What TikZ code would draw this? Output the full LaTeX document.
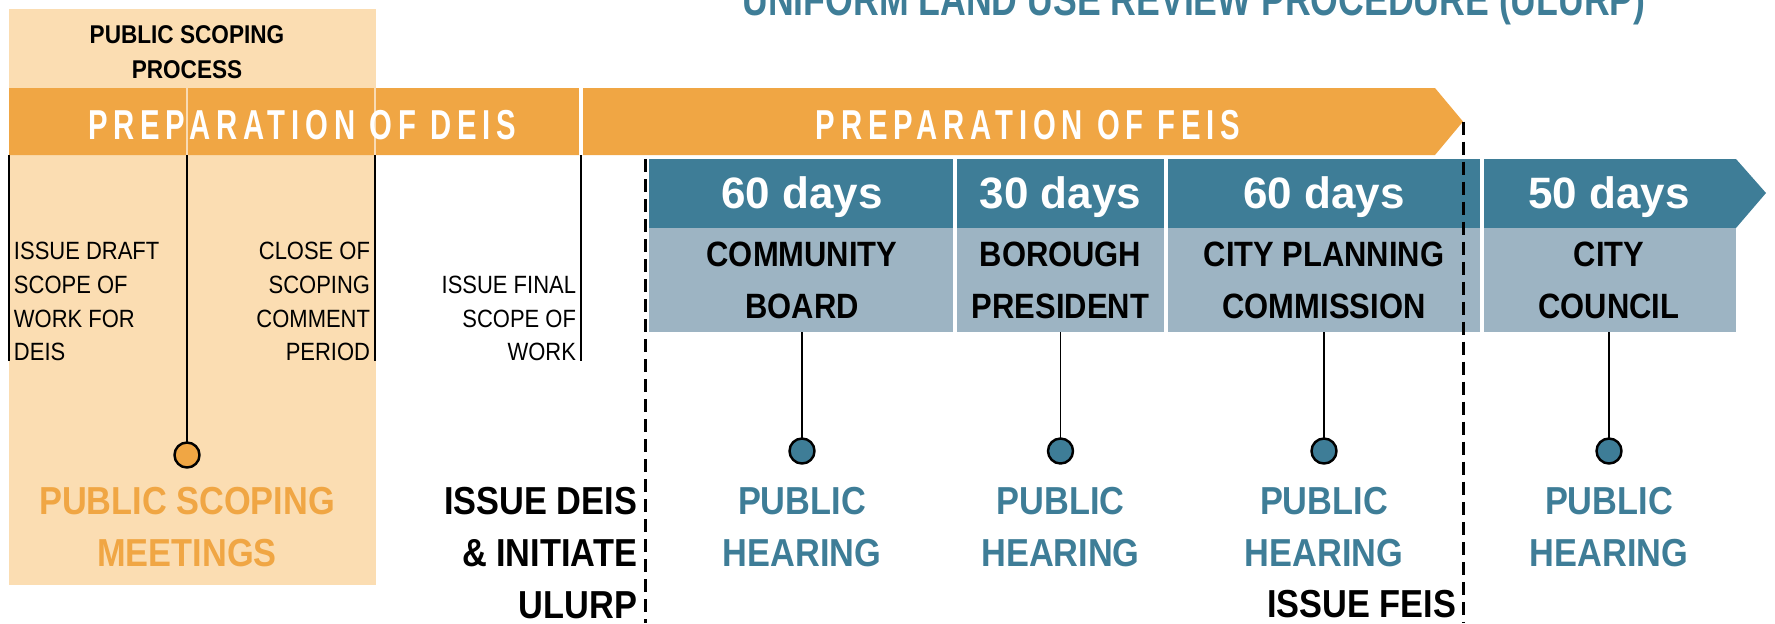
\documentclass[tikz,border=0pt]{standalone}
\usepackage{fontspec}
\setmainfont{Liberation Sans}
\newfontfamily\narrowfont{Liberation Sans}[FakeStretch=0.88]
\newfontfamily\titlefont{Liberation Sans}[FakeStretch=0.78]
\newfontfamily\bandfont{Liberation Sans}[FakeStretch=0.7,LetterSpace=14]
\definecolor{bandorange}{HTML}{F0A644}
\definecolor{scopepeach}{HTML}{FBDDB2}
\definecolor{ulurpteal}{HTML}{3E7D97}
\definecolor{agencygrey}{HTML}{9DB4C3}

\begin{document}
\begin{tikzpicture}[
    x=0.01cm, y=-0.01cm,
    line join=round,
    every node/.style={inner sep=0pt, outer sep=0pt},
    phaselabel/.style={font=\bandfont\bfseries\fontsize{11.9}{14}\selectfont, text=white},
    milestone/.style={font=\narrowfont\fontsize{7.1}{9.6}\selectfont, text=black},
    days/.style={font=\bfseries\fontsize{12.5}{15}\selectfont, text=white},
    agency/.style={font=\narrowfont\bfseries\fontsize{10}{14.8}\selectfont, align=center,
      fill=agencygrey, minimum height=1.04cm},
    hearing/.style={font=\narrowfont\bfseries\fontsize{11.1}{14.8}\selectfont, align=center,
      text=ulurpteal},
    hearingdot/.style={circle, draw=black, line width=0.7pt, minimum size=0.25cm},
    milestoneline/.style={draw=black, line width=0.5pt},
    deadline/.style={draw=black, line width=0.85pt, dash pattern=on 0.13cm off 0.07cm},
    divider/.style={draw=white, line width=0.6pt}
]
\useasboundingbox (0,0) rectangle (1775,623);
\clip (0,0) rectangle (1775,623);
\coordinate (bottom) at (0,623);

\node[anchor=base, font=\titlefont\bfseries\fontsize{13}{15}\selectfont, text=ulurpteal] (title)
  at (1194,15) {UNIFORM LAND USE REVIEW PROCEDURE (ULURP)};

\fill[scopepeach] (9,9) rectangle (376,585);
\node[align=center, font=\narrowfont\bfseries\fontsize{7.3}{10}\selectfont] (scoping)
  at (187,52) {PUBLIC SCOPING\\PROCESS};

\fill[bandorange] (9,88) -- (1435,88) -- (1463,121.5) -- (1435,155) -- (9,155) -- cycle;
\coordinate (feistip) at (1463,121.5);
\node[phaselabel] (deis) at (302,125) {PREPARATION OF DEIS};
\node[phaselabel] (feis) at (1028,125) {PREPARATION OF FEIS};
\draw[divider, line width=0.9pt] (581,88) -- (581,155);
\foreach \x in {187,375}
  \draw[divider, opacity=0.6] (\x,88) -- (\x,155);

\coordinate (m1) at (9,155);
\coordinate (m2) at (187,155);
\coordinate (m3) at (375,155);
\coordinate (m4) at (581,155);
\node[milestone, align=left, anchor=south west] (draft) at (14,361) {ISSUE DRAFT\\SCOPE OF\\WORK FOR\\DEIS};
\node[milestone, align=right, anchor=south east] (close) at (370,361) {CLOSE OF\\SCOPING\\COMMENT\\PERIOD};
\node[milestone, align=right, anchor=south east] (final) at (576,361) {ISSUE FINAL\\SCOPE OF\\WORK};
\draw[milestoneline] (m1) -- (m1 |- draft.south);
\draw[milestoneline] (m3) -- (m3 |- close.south);
\draw[milestoneline] (m4) -- (m4 |- final.south);
\node[hearingdot, fill=bandorange] (meet) at (187,455) {};
\draw[milestoneline] (m2) -- (meet.north);
\node[hearing, text=bandorange] (meettext) at (187,527) {PUBLIC SCOPING\\MEETINGS};

\fill[ulurpteal] (649,159) -- (1736,159) -- (1766,193) -- (1736,228) -- (649,228) -- cycle;
\foreach \i/\cx/\w/\nd/\ag in {1/802/3.06/60/{COMMUNITY\\BOARD},
    2/1060.5/2.11/30/{BOROUGH\\PRESIDENT},
    3/1324/3.16/60/{CITY PLANNING\\COMMISSION},
    4/1609/2.54/50/{CITY\\COUNCIL}} {
  \node[days, anchor=base] (dy\i) at (\cx,208) {\nd\ days};
  \node[agency, minimum width=\w cm] (ag\i) at (\cx,280) {\ag};
  \node[hearingdot, fill=ulurpteal] (c\i) at (\cx,451) {};
  \draw[milestoneline] (ag\i.south) -- (c\i.north);
  \node[hearing] (h\i) at (\cx,527) {PUBLIC\\HEARING};
}
\foreach \x in {955,1166,1482}
  \draw[divider, line width=0.9pt] (\x,159) -- (\x,332);

\coordinate (ulurpstart) at (645,159);
\draw[deadline] (ulurpstart) -- (ulurpstart |- bottom);
\draw[deadline] (feistip) -- (feistip |- bottom);

\node[hearing, text=black, align=right, anchor=east] (issuedeis) at (637,553) {ISSUE DEIS\\\& INITIATE\\ULURP};
\node[hearing, text=black, anchor=east] (issuefeis) at (1456,604) {ISSUE FEIS};
\end{tikzpicture}
\end{document}
